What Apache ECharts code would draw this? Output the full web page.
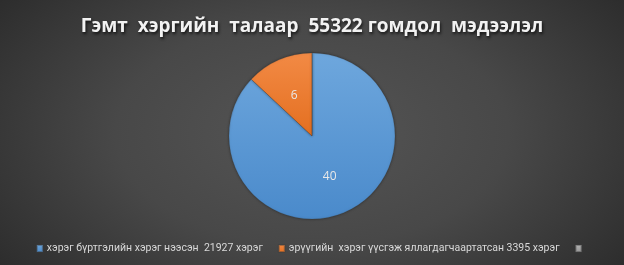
<!DOCTYPE html>
<html><head><meta charset="utf-8">
<script src="https://cdn.jsdelivr.net/npm/echarts@6/dist/echarts.min.js"></script>
<style>
html,body{margin:0;padding:0;}
#c{width:624px;height:265px;background:radial-gradient(ellipse 70% 95% at 50% 50%, #555555 0%, #484848 45%, #262626 100%);}
</style></head>
<body><div id="c"></div>
<script>
const titleText = 'Гэмт  хэргийн  талаар  55322 гомдол  мэдээлэл';
const categories = ['хэрэг бүртгэлийн хэрэг нээсэн  21927 хэрэг', 'эрүүгийн  хэрэг үүсгэж яллагдагчаартатсан 3395 хэрэг', ' '];
const values = [40, 6, 0];
const colors = ['#5b9bd5', '#ed7d31', '#a5a5a5'];
const gradTop = ['#6ea7dd', '#f28a45', '#b5b5b5'];
const gradBot = ['#4a8acb', '#e46f20', '#959595'];

const chart = echarts.init(document.getElementById('c'), null, {renderer:'canvas'});
chart.setOption({
  backgroundColor: 'transparent',
  animation: false,
  color: colors,
  title: {
    text: titleText, left: 'center', top: 12,
    textStyle: {color:'#f2f2f2', fontSize:19, fontWeight:'bold', fontFamily:'Open Sans',
      textShadowColor:'rgba(0,0,0,0.7)', textShadowBlur:3, textShadowOffsetX:1, textShadowOffsetY:2}
  },
  legend: {
    top: 238, left: 'center', itemWidth: 6, itemHeight: 7, itemGap: 15,
    icon: 'rect',
    textStyle: {color:'#d9d9d9', fontSize:10.5, fontFamily:'Roboto', padding:[0,0,0,-1]},
    data: categories
  },
  series: [{
    type: 'pie', center: [312, 136], radius: [0, 83], startAngle: 90, clockwise: true,
    label: {show:true, position:'inside', color:'#e8e8e8', fontSize:12, fontFamily:'Open Sans',
      formatter: p => p.value > 0 ? String(p.value) : ''},
    labelLine: {show:false},
    itemStyle: {borderColor:'rgba(60,60,60,0.4)', borderWidth:0.5, shadowColor:'rgba(0,0,0,0.4)', shadowBlur:3},
    data: categories.map((n,i)=>({name:n, value:values[i],
      itemStyle:{color:{type:'linear',x:0,y:0,x2:0,y2:1,colorStops:[{offset:0,color:gradTop[i]},{offset:1,color:gradBot[i]}]}}})),
    emphasis: {disabled:true}
  }]
});
</script></body></html>
